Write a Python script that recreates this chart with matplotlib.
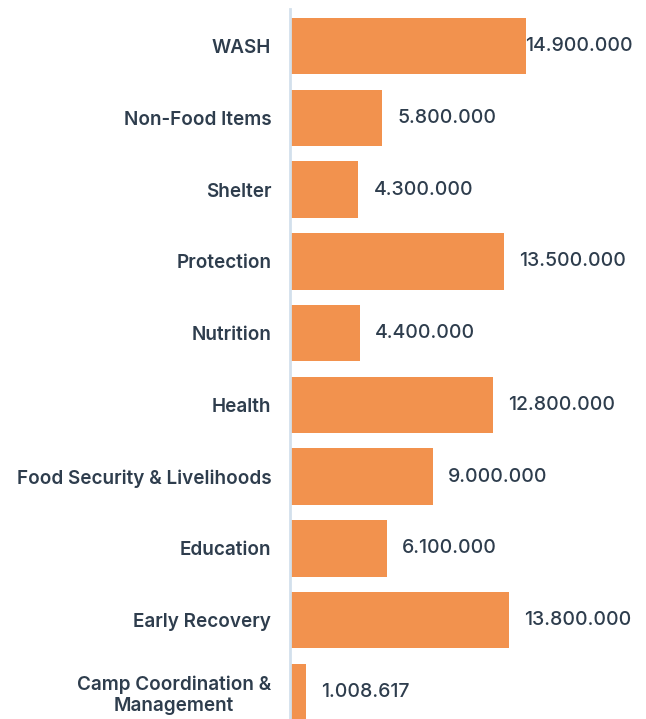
import matplotlib
matplotlib.use("Agg")
import matplotlib.pyplot as plt

# sector funding requirements
sectors = ["WASH", "Non-Food Items", "Shelter", "Protection", "Nutrition",
           "Health", "Food Security & Livelihoods", "Education",
           "Early Recovery", "Camp Coordination &\nManagement"]
values = [14900000, 5800000, 4300000, 13500000, 4400000,
          12800000, 9000000, 6100000, 13800000, 1008617]
value_labels = ["14.900.000", "5.800.000", "4.300.000", "13.500.000", "4.400.000",
                "12.800.000", "9.000.000", "6.100.000", "13.800.000", "1.008.617"]

W, H = 646, 719
bar_color = "#F2924E"
text_color = "#2E3D4D"
font = "Inter"

fig = plt.figure(figsize=(W / 100, H / 100), dpi=100)
ax = fig.add_axes([290 / W, 0, (W - 290) / W, (H - 9) / H])

ypos = list(range(len(sectors)))
ax.barh(ypos, values, height=0.79, color=bar_color, linewidth=0)
ax.set_ylim(9 + 27 / 71.45, -37 / 71.45)
ax.set_xlim(0, 22.47e6)

for s in ["top", "right", "bottom"]:
    ax.spines[s].set_visible(False)
ax.spines["left"].set_color("#D3E0EC")
ax.spines["left"].set_linewidth(2)
ax.set_xticks([])
ax.set_yticks(ypos)
ax.set_yticklabels(sectors, fontsize=13.6, fontweight="semibold",
                   color=text_color, family=font, linespacing=1.2)
for lbl in ax.get_yticklabels():
    lbl.set_multialignment("center")
ax.tick_params(axis="y", length=0, pad=13.5)

# value labels, pushed back inside the figure when they overflow
fig.canvas.draw()
renderer = fig.canvas.get_renderer()
for y, v, lab in zip(ypos, values, value_labels):
    t = ax.annotate(lab, (v, y), xytext=(11, 0), textcoords="offset points",
                    va="center", ha="left", fontsize=14, fontweight="medium",
                    color=text_color, family=font, annotation_clip=False)
    bb = t.get_window_extent(renderer)
    if bb.x1 > W - 13:
        t.set_position((11 - (bb.x1 - (W - 13)) * 72 / 100, 0))

fig.savefig("out.png", dpi=100)
